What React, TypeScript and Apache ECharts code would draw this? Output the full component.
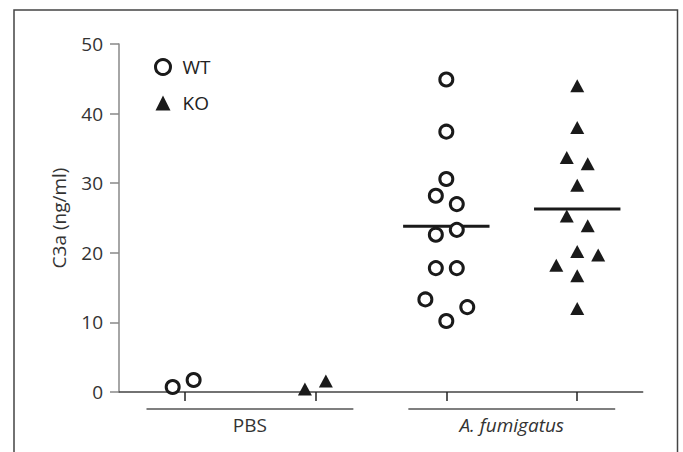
import React, { useEffect, useRef } from "react";
import * as echarts from "echarts";

// Group positions on the x scale: 1 = PBS WT, 2 = PBS KO, 3 = A. fumigatus WT, 4 = A. fumigatus KO
const groupLabels = ["PBS", "A. fumigatus"];
const groupCenters = [1.5, 3.5];
const tickPositions = [1, 2, 3, 4];
const yTicks = [0, 10, 20, 30, 40, 50];

// [x position (with jitter), C3a ng/ml]
const wtPoints: [number, number][] = [
  [0.91, 0.72], [1.07, 1.72],
  [3.0, 44.9], [3.0, 37.4], [3.0, 30.6], [2.92, 28.2], [3.08, 27.0], [3.08, 23.3],
  [2.92, 22.6], [2.92, 17.8], [3.08, 17.8], [2.84, 13.3], [3.16, 12.2], [3.0, 10.2],
];
const koPoints: [number, number][] = [
  [1.92, 0.43], [2.08, 1.58],
  [4.0, 44.0], [4.0, 38.0], [3.92, 33.7], [4.08, 32.8], [4.0, 29.7], [3.92, 25.3],
  [4.08, 23.9], [4.0, 20.2], [4.16, 19.7], [3.84, 18.2], [4.0, 16.7], [4.0, 12.0],
];
// mean bars: [x position, mean]
const meanBars: [number, number][] = [[3, 23.8], [4, 26.3]];

const FONT = "'Open Sans', 'Noto Sans', sans-serif";
const FS = 19;

export default function App() {
  const ref = useRef<HTMLDivElement>(null);
  useEffect(() => {
    if (!ref.current) return;
    const chart = echarts.init(ref.current, null, { renderer: "svg" });
    chart.setOption({
      animation: false,
      backgroundColor: "#fff",
      textStyle: { fontFamily: FONT },
      graphic: [
        {
          type: "rect",
          shape: { x: 14, y: 10, width: 663.5, height: 470 },
          style: { fill: "none", stroke: "#444", lineWidth: 1.5 },
          silent: true,
          z: 0,
        },
      ],
      grid: { left: 119, right: 40.3, top: 44, bottom: 60, containLabel: false },
      legend: {
        data: [
          { name: "WT", itemStyle: { color: "#fff", borderColor: "#1a1a1a", borderWidth: 3 } },
          { name: "KO" },
        ],
        orient: "vertical",
        left: 149,
        top: 52.5,
        itemWidth: 15,
        itemHeight: 15,
        itemGap: 17,
        textStyle: { fontSize: FS, color: "#222", fontFamily: FONT, lineHeight: 15, padding: [0, 0, 0, 7] },
      },
      xAxis: {
        type: "value",
        min: 0.5,
        max: 4.5,
        axisLine: { show: true, onZero: false, lineStyle: { color: "#444", width: 1.5 } },
        axisTick: { show: true, inside: false, length: 9, customValues: tickPositions, lineStyle: { color: "#222", width: 1.5 } },
        axisLabel: { show: false },
        splitLine: { show: false },
      },
      yAxis: {
        type: "value",
        min: 0,
        max: 50,
        interval: 10,
        name: "C3a (ng/ml)",
        nameLocation: "middle",
        nameGap: 51,
        nameTextStyle: { fontSize: FS, color: "#333", fontFamily: FONT },
        axisLine: { show: true, lineStyle: { color: "#888", width: 1.5 } },
        axisTick: { show: true, inside: false, length: 9, lineStyle: { color: "#888", width: 1.5 } },
        axisLabel: {
          fontSize: FS,
          color: "#333",
          margin: 16,
          fontFamily: FONT,
          formatter: (v: number) => (yTicks.includes(v) ? String(v) : ""),
        },
        splitLine: { show: false },
      },
      series: [
        {
          name: "means",
          type: "custom",
          clip: false,
          z: 1,
          data: meanBars,
          renderItem: (params: any, api: any) => {
            const x = api.value(0);
            const m = api.value(1);
            const p0 = api.coord([x - 0.33, m]);
            const p1 = api.coord([x + 0.33, m]);
            return {
              type: "line",
              shape: { x1: p0[0], y1: p0[1], x2: p1[0], y2: p1[1] },
              style: { stroke: "#1a1a1a", lineWidth: 3 },
            };
          },
        },
        {
          name: "WT",
          type: "scatter",
          symbol: "circle",
          symbolSize: 13,
          z: 3,
          itemStyle: { color: "#fff", borderColor: "#1a1a1a", borderWidth: 3, opacity: 1 },
          data: wtPoints,
        },
        {
          name: "KO",
          type: "scatter",
          symbol: "triangle",
          symbolSize: [14, 13],
          z: 3,
          itemStyle: { color: "#1a1a1a", opacity: 1 },
          data: koPoints,
        },
        {
          name: "groups",
          type: "custom",
          clip: false,
          silent: true,
          data: groupCenters.map((c) => [c, 0]),
          renderItem: (params: any, api: any) => {
            const x = api.value(0);
            const p0 = api.coord([x - 0.79, 0]);
            const p1 = api.coord([x + 0.79, 0]);
            const label = groupLabels[params.dataIndex];
            return {
              type: "group",
              children: [
                {
                  type: "line",
                  shape: { x1: p0[0], y1: p0[1] + 17, x2: p1[0], y2: p1[1] + 17 },
                  style: { stroke: "#555", lineWidth: 1.5 },
                },
                {
                  type: "text",
                  style: {
                    text: label,
                    x: (p0[0] + p1[0]) / 2,
                    y: p0[1] + 33,
                    align: "center",
                    verticalAlign: "middle",
                    fill: "#333",
                    fontSize: FS,
                    fontFamily: FONT,
                    fontStyle: params.dataIndex === 1 ? "italic" : "normal",
                  },
                },
              ],
            };
          },
        },
      ],
    });
    return () => chart.dispose();
  }, []);
  return (
    <div
      ref={ref}
      style={{ position: "absolute", left: 0, top: 0, width: 683, height: 452, background: "#fff" }}
    />
  );
}
